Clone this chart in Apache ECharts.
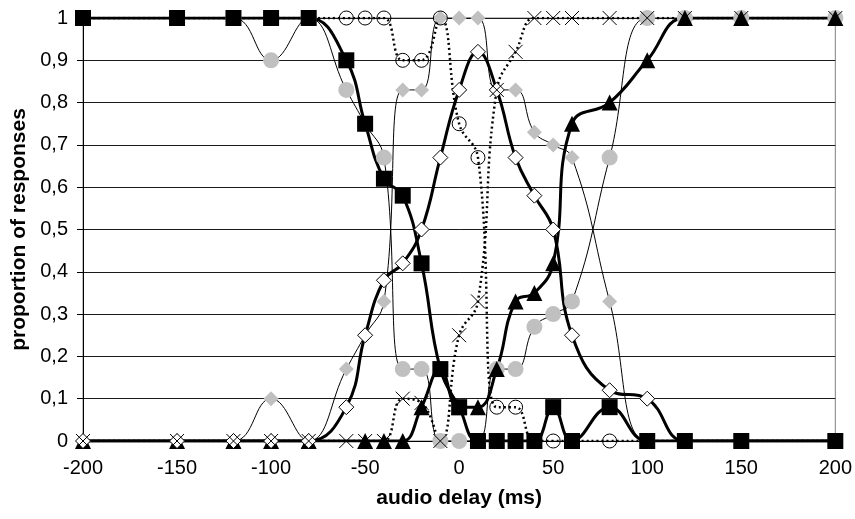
<!DOCTYPE html>
<html>
<head>
<meta charset="utf-8">
<script src="https://cdn.jsdelivr.net/npm/echarts@6/dist/echarts.min.js"></script>
<style>
  html, body { margin: 0; padding: 0; background: #fff; }
  #chart { width: 855px; height: 519px; }
</style>
</head>
<body>
<div id="chart"></div>
<script>
// audio delays (ms)
var delays = [-200, -150, -120, -100, -80, -60, -50, -40, -30, -20, -10, 0, 10, 20, 30, 40, 50, 60, 80, 100, 120, 150, 200];

// proportion of responses, one array per curve
var squares      = [1, 1, 1, 1, 1, 0.9, 0.75, 0.62, 0.58, 0.42, 0.17, 0.08, 0, 0, 0, 0, 0.08, 0, 0.08, 0, 0, 0, 0];
var triangles    = [0, 0, 0, 0, 0, null, 0, 0, 0, 0.08, 0.17, 0.08, 0.08, 0.17, 0.33, 0.35, 0.42, 0.75, 0.8, 0.9, 1, 1, 1];
var whiteDiamond = [0, 0, 0, 0, 0, 0.08, 0.25, 0.38, 0.42, 0.5, 0.67, 0.83, 0.92, 0.83, 0.67, 0.58, 0.5, 0.25, 0.12, 0.1, 0, 0, 0];
var grayCircles  = [1, 1, 1, 0.9, 1, 0.83, 0.75, 0.67, 0.17, 0.17, 0, 0, 0, 0.17, 0.17, 0.27, 0.3, 0.33, 0.67, 1, 1, 1, 1];
var grayDiamond  = [0, 0, 0, 0.1, 0, 0.17, 0.25, 0.33, 0.83, 0.83, 1, 1, 1, 0.83, 0.83, 0.73, 0.7, 0.67, 0.33, 0, 0, 0, 0];
var openCircles  = [1, 1, 1, 1, 1, 1, 1, 1, 0.9, 0.9, 1, 0.75, 0.67, 0.08, 0.08, 0, 0, 0, 0, 0, 0, 0, 0];
var crosses      = [0, 0, 0, 0, 0, 0, 0, 0, 0.1, 0.09, 0, 0.25, 0.33, 0.83, 0.92, 1, 1, 1, 1, 1, 1, 1, 1];

var fontFam = '"Liberation Sans", Arial, sans-serif';

function pairs(vals){
	return delays.map(function(d, i){ return [d, vals[i]]; });
}

function mkSeries(name, vals, o){
	return {
		name: name,
		type: 'line',
		data: pairs(vals),
		smooth: 0.45,
		connectNulls: true,
		symbol: o.symbol,
		symbolSize: o.size,
		lineStyle: { color: '#000', width: o.width, type: o.type || 'solid' },
		itemStyle: { color: o.fill, borderColor: o.border || o.fill, borderWidth: o.bw || 0 },
		emphasis: { disabled: true },
		z: 2
	};
}

var chart = echarts.init(document.getElementById('chart'));
chart.setOption({
	animation: false,
	grid: {
		left: 83, right: 17, top: 18, bottom: 78,
		show: true, borderColor: '#808080', borderWidth: 1
	},
	xAxis: {
		type: 'value', min: -200, max: 200, interval: 50,
		name: 'audio delay (ms)', nameLocation: 'middle', nameGap: 47,
		nameTextStyle: { fontFamily: fontFam, fontSize: 21, fontWeight: 'bold', color: '#000' },
		axisLine: { onZero: false, lineStyle: { color: '#000', width: 1 } },
		axisTick: { show: false },
		axisLabel: { fontFamily: fontFam, fontSize: 20, color: '#000', margin: 17 },
		splitLine: { show: false }
	},
	yAxis: {
		type: 'value', min: 0, max: 1, interval: 0.1,
		name: 'proportion of responses', nameLocation: 'middle', nameGap: 50,
		nameTextStyle: { fontFamily: fontFam, fontSize: 21, fontWeight: 'bold', color: '#000' },
		axisLine: { show: true, onZero: false, lineStyle: { color: '#000', width: 1 } },
		axisTick: { show: true, length: 6, lineStyle: { color: '#000' } },
		axisLabel: {
			fontFamily: fontFam, fontSize: 20, color: '#000', margin: 15,
			formatter: function(v){ return String(Math.round(v * 10) / 10).replace('.', ','); }
		},
		splitLine: { show: true, lineStyle: { color: '#1a1a1a', width: 1 } }
	},
	series: [
		mkSeries('gray circles', grayCircles, { symbol: 'circle', size: 16, fill: '#c0c0c0', width: 1 }),
		mkSeries('gray diamonds', grayDiamond, { symbol: 'diamond', size: 15, fill: '#c0c0c0', width: 1 }),
		mkSeries('open circles', openCircles, { symbol: 'circle', size: 14, fill: 'rgba(255,255,255,0)', border: '#000', bw: 1, width: 2.5, type: [2, 3] }),
		mkSeries('triangles', triangles, { symbol: 'triangle', size: 16, fill: '#000', width: 3 }),
		mkSeries('white diamonds', whiteDiamond, { symbol: 'diamond', size: 15, fill: '#fff', border: '#000', bw: 1, width: 3 }),
		mkSeries('squares', squares, { symbol: 'rect', size: 16, fill: '#000', width: 3 }),
		mkSeries('crosses', crosses, { symbol: 'path://M0,0L10,10M10,0L0,10', size: 14, fill: 'rgba(255,255,255,0)', border: '#000', bw: 1, width: 2.5, type: [2, 3] })
	]
});
</script>
</body>
</html>
